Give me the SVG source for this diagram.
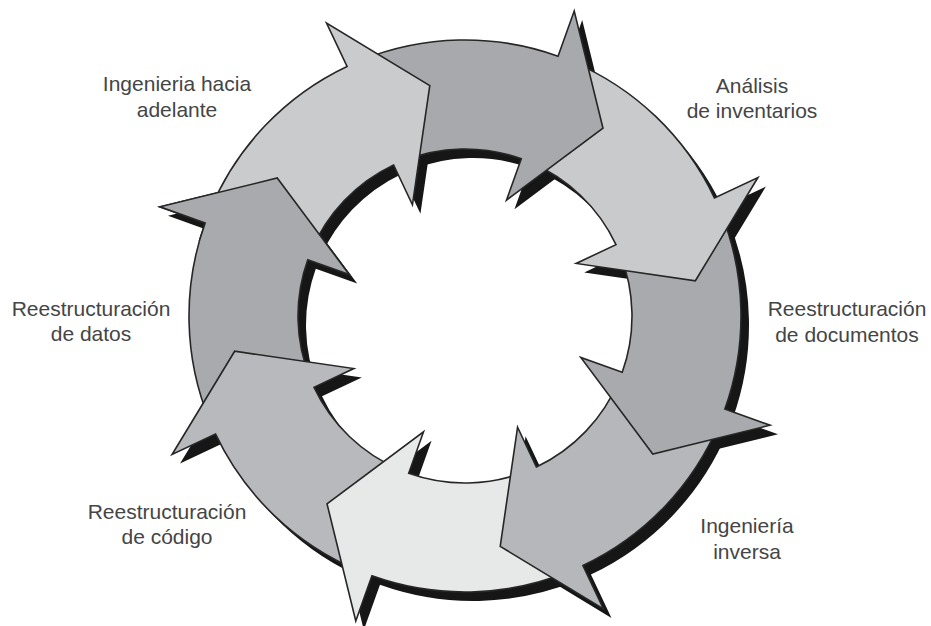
<svg xmlns="http://www.w3.org/2000/svg" width="931" height="626" viewBox="0 0 931 626">
<style>
.arrow{stroke:#262626;stroke-width:1.6;stroke-linejoin:miter}
.shadow{fill:#161616;stroke:none}
.lbl{font-family:"Liberation Sans",Arial,sans-serif;font-size:21px;fill:#454545;text-anchor:middle}
</style>
<defs>
<path id="arw" d="M205.1,-184.7 A276,276 0 0 1 276,0 L324,0 L223.3,66.6 L123,0 L167,0 A167,167 0 0 0 124.1,-111.7 Z"/>
<clipPath id="headclip"><polygon points="0,0 399,-28 380,190"/></clipPath>
</defs>
<rect width="931" height="626" fill="#ffffff"/>
<g id="shadows">
<use href="#arw" class="shadow" transform="translate(473,325) rotate(-115.3)"/>
<use href="#arw" class="shadow" transform="translate(473,325) rotate(-70.3)"/>
<use href="#arw" class="shadow" transform="translate(473,325) rotate(-25.3)"/>
<use href="#arw" class="shadow" transform="translate(473,325) rotate(19.7)"/>
<use href="#arw" class="shadow" transform="translate(473,325) rotate(64.7)"/>
<use href="#arw" class="shadow" transform="translate(473,325) rotate(109.7)"/>
<use href="#arw" class="shadow" transform="translate(473,325) rotate(154.7)"/>
<use href="#arw" class="shadow" transform="translate(473,325) rotate(199.7)"/>
</g>
<g id="arrow-left"><use href="#arw" class="arrow" fill="#a8aaad" transform="translate(465,316) rotate(199.7)"/></g>
<g id="arrow-bottom-left"><use href="#arw" class="arrow" fill="#b7b9bc" transform="translate(465,316) rotate(154.7)"/></g>
<g id="arrow-bottom"><use href="#arw" class="arrow" fill="#e7e9e9" transform="translate(465,316) rotate(109.7)"/></g>
<g id="arrow-bottom-right"><use href="#arw" class="arrow" fill="#b5b7ba" transform="translate(465,316) rotate(64.7)"/></g>
<g id="arrow-right"><use href="#arw" class="arrow" fill="#a8aaad" transform="translate(465,316) rotate(19.7)"/></g>
<g id="arrow-right-top"><use href="#arw" class="arrow" fill="#c8cacc" transform="translate(465,316) rotate(-25.3)"/></g>
<g id="arrow-top"><use href="#arw" class="arrow" fill="#a7a9ac" transform="translate(465,316) rotate(-70.3)"/></g>
<g id="arrow-top-left"><use href="#arw" class="arrow" fill="#c9cbcd" transform="translate(465,316) rotate(-115.3)"/></g>
<g id="arrow-left-head" transform="translate(465,316) rotate(199.7)"><use href="#arw" class="arrow" fill="#a8aaad" clip-path="url(#headclip)"/></g>
<g id="labels">
<text class="lbl" x="177" y="91">Ingenieria hacia</text>
<text class="lbl" x="177" y="117">adelante</text>
<text class="lbl" x="752" y="93">Análisis</text>
<text class="lbl" x="752" y="118">de inventarios</text>
<text class="lbl" x="847" y="316">Reestructuración</text>
<text class="lbl" x="847" y="342">de documentos</text>
<text class="lbl" x="747" y="533">Ingeniería</text>
<text class="lbl" x="747" y="559">inversa</text>
<text class="lbl" x="167" y="519">Reestructuración</text>
<text class="lbl" x="167" y="544">de código</text>
<text class="lbl" x="91" y="316">Reestructuración</text>
<text class="lbl" x="91" y="341">de datos</text>
</g>
</svg>
